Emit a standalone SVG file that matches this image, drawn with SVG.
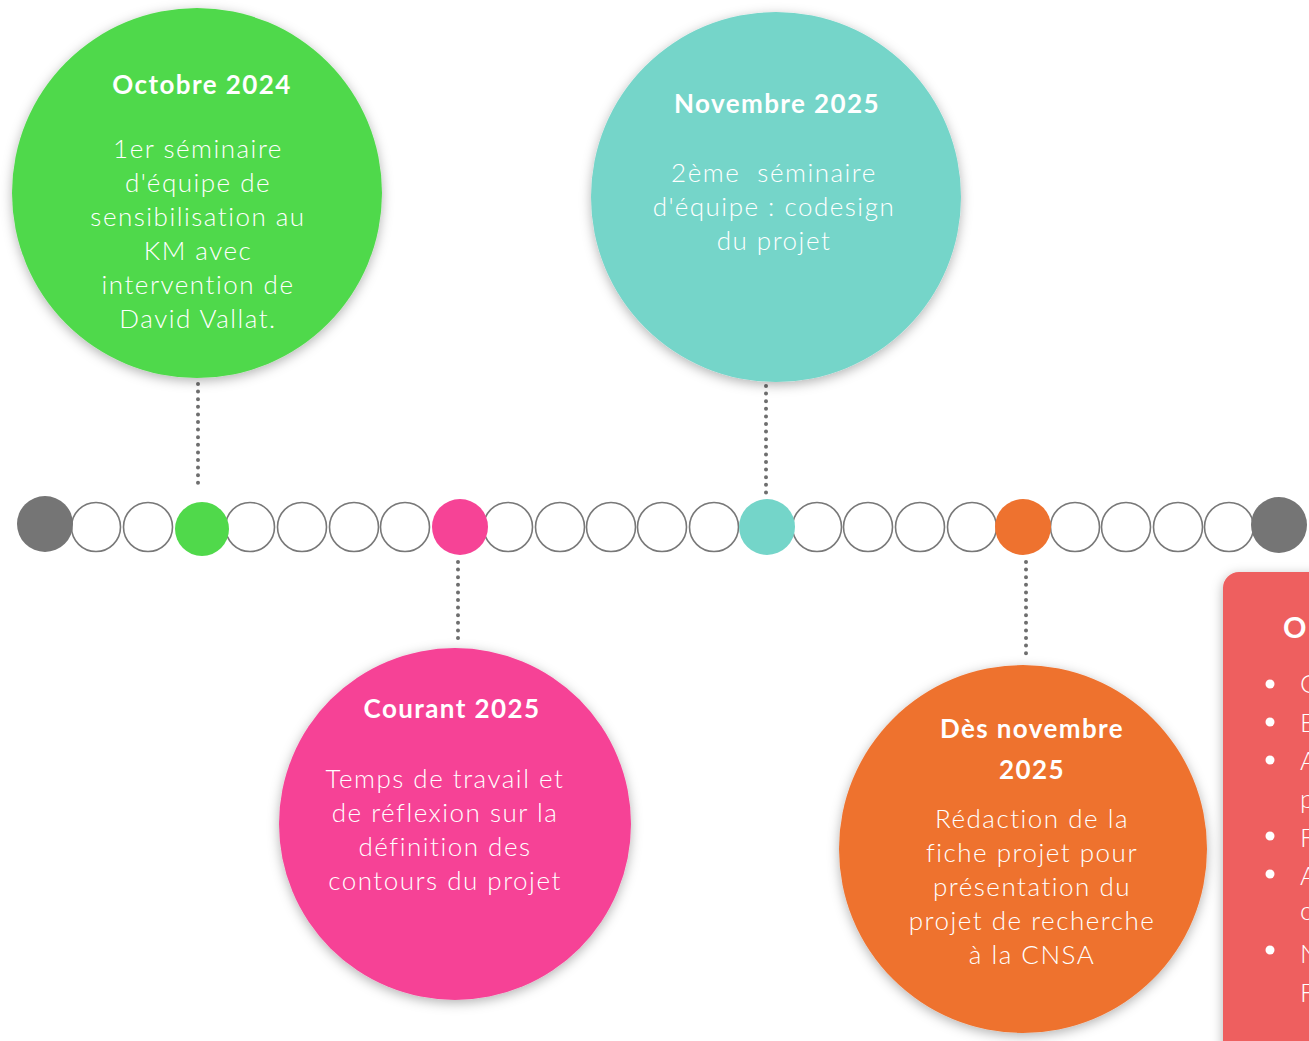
<svg xmlns="http://www.w3.org/2000/svg" width="1309" height="1041" viewBox="0 0 1309 1041">
<defs>
<filter id="sh" x="-20%" y="-20%" width="140%" height="140%">
<feDropShadow dx="0" dy="3" stdDeviation="6" flood-color="#000" flood-opacity="0.3"/>
</filter>
<style>
.tick{fill:#fff;stroke:#787878;stroke-width:1.6}
.dot{stroke:#6e6e6e;stroke-width:4;stroke-linecap:round;stroke-dasharray:0 7.6;fill:none}
.h{font-family:Lato,"Open Sans",sans-serif;font-weight:700;font-size:26px;letter-spacing:1.4px;fill:#fff;text-anchor:middle}
.b{font-family:Lato,"Open Sans",sans-serif;font-weight:300;font-size:26px;letter-spacing:1.5px;fill:#fff;text-anchor:middle}
.r{font-family:Lato,"Open Sans",sans-serif;font-weight:300;font-size:26px;fill:#fff}
</style>
</defs>
<rect width="1309" height="1041" fill="#fff"/>

<g id="connectors">
<line class="dot" x1="198" y1="384" x2="198" y2="490"/>
<line class="dot" x1="766" y1="386" x2="766" y2="498"/>
<line class="dot" x1="458" y1="562" x2="458" y2="641"/>
<line class="dot" x1="1026" y1="562" x2="1026" y2="660"/>
</g>

<g id="timeline">
<circle class="tick" cx="96" cy="527" r="24.5"/>
<circle class="tick" cx="148" cy="527" r="24.5"/>
<circle class="tick" cx="250" cy="527" r="24.5"/>
<circle class="tick" cx="302" cy="527" r="24.5"/>
<circle class="tick" cx="354" cy="527" r="24.5"/>
<circle class="tick" cx="405" cy="527" r="24.5"/>
<circle class="tick" cx="508" cy="527" r="24.5"/>
<circle class="tick" cx="560" cy="527" r="24.5"/>
<circle class="tick" cx="611" cy="527" r="24.5"/>
<circle class="tick" cx="662" cy="527" r="24.5"/>
<circle class="tick" cx="714" cy="527" r="24.5"/>
<circle class="tick" cx="817" cy="527" r="24.5"/>
<circle class="tick" cx="868" cy="527" r="24.5"/>
<circle class="tick" cx="920" cy="527" r="24.5"/>
<circle class="tick" cx="972" cy="527" r="24.5"/>
<circle class="tick" cx="1075" cy="527" r="24.5"/>
<circle class="tick" cx="1126" cy="527" r="24.5"/>
<circle class="tick" cx="1178" cy="527" r="24.5"/>
<circle class="tick" cx="1229" cy="527" r="24.5"/>
<circle cx="45" cy="524" r="28" fill="#757575"/>
<circle cx="1279" cy="525" r="28" fill="#757575"/>
<circle cx="202" cy="529" r="27" fill="#50D94B"/>
<circle cx="460" cy="527" r="28" fill="#F64396"/>
<circle cx="767" cy="527" r="28" fill="#74D5C9"/>
<circle cx="1023" cy="527" r="28" fill="#EE722F"/>
</g>

<g id="node-octobre-2024">
<circle cx="197" cy="193" r="185" fill="#50D94B" filter="url(#sh)"/>
<text class="h" x="202" y="94">Octobre 2024</text>
<text class="b" x="198" y="158">1er séminaire</text>
<text class="b" x="198" y="192">d'équipe de</text>
<text class="b" x="198" y="226">sensibilisation au</text>
<text class="b" x="198" y="260">KM avec</text>
<text class="b" x="198" y="294">intervention de</text>
<text class="b" x="198" y="328">David Vallat.</text>
</g>

<g id="node-novembre-2025">
<circle cx="776" cy="197" r="185" fill="#74D5C9" filter="url(#sh)"/>
<text class="h" x="777" y="113">Novembre 2025</text>
<text class="b" x="774" y="182" xml:space="preserve">2ème  séminaire</text>
<text class="b" x="774" y="216">d'équipe : codesign</text>
<text class="b" x="774" y="250">du projet</text>
</g>

<g id="node-courant-2025">
<circle cx="455" cy="824" r="176" fill="#F64396" filter="url(#sh)"/>
<text class="h" x="452" y="718">Courant 2025</text>
<text class="b" x="445" y="788">Temps de travail et</text>
<text class="b" x="445" y="822">de réflexion sur la</text>
<text class="b" x="445" y="856">définition des</text>
<text class="b" x="445" y="890">contours du projet</text>
</g>

<g id="node-des-novembre-2025">
<circle cx="1023" cy="849" r="184" fill="#EE722F" filter="url(#sh)"/>
<text class="h" x="1032" y="738">Dès novembre</text>
<text class="h" x="1032" y="779">2025</text>
<text class="b" x="1032" y="828">Rédaction de la</text>
<text class="b" x="1032" y="862">fiche projet pour</text>
<text class="b" x="1032" y="896">présentation du</text>
<text class="b" x="1032" y="930">projet de recherche</text>
<text class="b" x="1032" y="964">à la CNSA</text>
</g>

<g id="node-objectifs">
<rect x="1223" y="572" width="120" height="500" rx="16" fill="#EE5F5F" filter="url(#sh)"/>
<text class="h" x="1283" y="638" style="text-anchor:start;font-size:29px">O</text>
<g fill="#fff">
<circle cx="1270" cy="684" r="4.5"/>
<circle cx="1270" cy="722" r="4.5"/>
<circle cx="1270" cy="760" r="4.5"/>
<circle cx="1270" cy="836" r="4.5"/>
<circle cx="1270" cy="874" r="4.5"/>
<circle cx="1270" cy="950" r="4.5"/>
</g>
<text class="r" x="1300" y="693">C</text>
<text class="r" x="1300" y="732">E</text>
<text class="r" x="1300" y="770">A</text>
<text class="r" x="1300" y="808">p</text>
<text class="r" x="1300" y="847">F</text>
<text class="r" x="1300" y="885">A</text>
<text class="r" x="1300" y="920">c</text>
<text class="r" x="1300" y="963">N</text>
<text class="r" x="1300" y="1002">F</text>
</g>
</svg>
